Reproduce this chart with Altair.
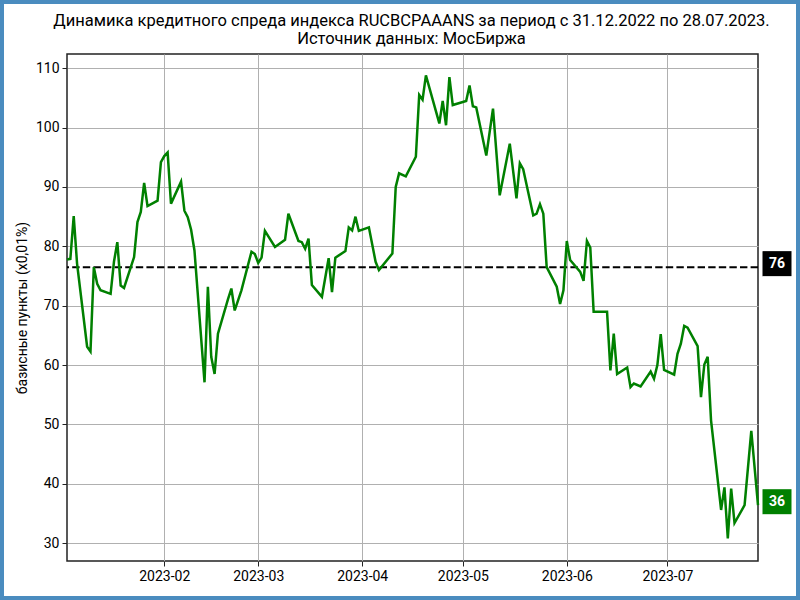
import altair as alt
import pandas as pd

# ---- data ----
dates = [
    "2023-01-03", "2023-01-04", "2023-01-05", "2023-01-06", "2023-01-09", "2023-01-10",
    "2023-01-11", "2023-01-12", "2023-01-13", "2023-01-16", "2023-01-17", "2023-01-18",
    "2023-01-19", "2023-01-20", "2023-01-23", "2023-01-24", "2023-01-25", "2023-01-26",
    "2023-01-27", "2023-01-30", "2023-01-31", "2023-02-01", "2023-02-02", "2023-02-03",
    "2023-02-06", "2023-02-07", "2023-02-08", "2023-02-09", "2023-02-10", "2023-02-13",
    "2023-02-14", "2023-02-15", "2023-02-16", "2023-02-17", "2023-02-20", "2023-02-21",
    "2023-02-22", "2023-02-24", "2023-02-27", "2023-02-28", "2023-03-01", "2023-03-02",
    "2023-03-03", "2023-03-06", "2023-03-09", "2023-03-10", "2023-03-13", "2023-03-14",
    "2023-03-15", "2023-03-16", "2023-03-17", "2023-03-20", "2023-03-22", "2023-03-23",
    "2023-03-24", "2023-03-27", "2023-03-28", "2023-03-29", "2023-03-30", "2023-03-31",
    "2023-04-03", "2023-04-05", "2023-04-06", "2023-04-10", "2023-04-11", "2023-04-12",
    "2023-04-14", "2023-04-17", "2023-04-18", "2023-04-19", "2023-04-20", "2023-04-24",
    "2023-04-25", "2023-04-26", "2023-04-27", "2023-04-28", "2023-05-02", "2023-05-03",
    "2023-05-04", "2023-05-05", "2023-05-08", "2023-05-10", "2023-05-12", "2023-05-15",
    "2023-05-17", "2023-05-18", "2023-05-19", "2023-05-22", "2023-05-23", "2023-05-24",
    "2023-05-25", "2023-05-26", "2023-05-29", "2023-05-30", "2023-05-31", "2023-06-01",
    "2023-06-02", "2023-06-05", "2023-06-06", "2023-06-07", "2023-06-08", "2023-06-09",
    "2023-06-13", "2023-06-14", "2023-06-15", "2023-06-16", "2023-06-19", "2023-06-20",
    "2023-06-21", "2023-06-23", "2023-06-26", "2023-06-27", "2023-06-28", "2023-06-29",
    "2023-06-30", "2023-07-03", "2023-07-04", "2023-07-05", "2023-07-06", "2023-07-07",
    "2023-07-10", "2023-07-11", "2023-07-12", "2023-07-13", "2023-07-14", "2023-07-17",
    "2023-07-18", "2023-07-19", "2023-07-20", "2023-07-21", "2023-07-24", "2023-07-26",
    "2023-07-28",
]
values = [
    77.8, 77.9, 85.1, 77.1, 63.1, 62.3,
    76.5, 73.7, 72.6, 72.0, 77.4, 80.7,
    73.4, 73.0, 78.2, 84.1, 85.8, 90.7,
    86.8, 87.7, 94.2, 95.2, 95.8, 87.2,
    90.9, 86.0, 84.9, 82.8, 79.3, 57.1,
    73.2, 61.4, 58.5, 65.3, 71.1, 72.9,
    69.2, 72.6, 79.1, 78.7, 77.2, 78.1,
    82.6, 79.9, 81.1, 85.5, 80.9, 80.7,
    79.6, 81.3, 73.5, 71.5, 78.0, 72.3,
    78.1, 79.2, 83.2, 82.7, 85.0, 82.6,
    83.2, 77.4, 76.0, 78.8, 90.0, 92.3,
    91.8, 95.1, 105.5, 104.7, 108.8, 100.7,
    104.5, 100.4, 108.5, 103.8, 104.5, 107.1,
    103.6, 103.4, 95.3, 103.2, 88.6, 97.3,
    88.1, 94.0, 93.0, 85.2, 85.5, 87.1,
    85.5, 76.5, 73.2, 70.3, 72.6, 80.9,
    77.7, 75.7, 74.2, 80.9, 79.8, 69.0,
    69.0, 59.1, 65.3, 58.5, 59.6, 56.3,
    56.9, 56.4, 58.9, 57.7, 60.0, 65.2,
    59.2, 58.4, 61.9, 63.6, 66.6, 66.3,
    63.2, 54.6, 60.1, 61.4, 50.7, 35.6,
    39.4, 30.8, 39.2, 33.4, 36.4, 48.9,
    36.4,
]
mean_value = 76.5
label_values = [76.5, 36.4]
label_texts = ["76", "36"]
label_colors = ["#000000", "#008000"]
y_ticks = [30, 40, 50, 60, 70, 80, 90, 100, 110]
month_ticks = [2, 3, 4, 5, 6, 7]

title_lines = [
    "Динамика кредитного спреда индекса RUCBCPAAANS за период с 31.12.2022 по 28.07.2023.",
    "Источник данных: МосБиржа",
]
y_title = "базисные пункты (x0,01%)"

# ---- layout ----
W, H = 691, 507
L, T, R, B = 67, 54, 42, 39

df = pd.DataFrame({"date": dates, "value": values})
mean_df = pd.DataFrame({"v": [mean_value]})
lab_df = pd.DataFrame({"v": label_values, "t": label_texts, "c": label_colors})
title_df = pd.DataFrame({"t": title_lines, "row": [0, 1]})

x_scale = alt.Scale(type="utc", nice=False)
y_scale = alt.Scale(domain=[27, 112.4], nice=False, zero=False)

x_axis = alt.Axis(values=[alt.DateTime(year=2023, month=m, date=1, utc=True) for m in month_ticks],
                  format="%Y-%m", title=None,
                  labelFontSize=14, tickSize=5, labelPadding=3, domain=False,
                  grid=True, gridColor="#b0b0b0", gridWidth=1)
y_axis = alt.Axis(values=y_ticks, title=y_title, titleFontSize=14, titleFontWeight="normal",
                  labelFontSize=14, tickSize=5, labelPadding=3, domain=False,
                  grid=True, gridColor="#b0b0b0", gridWidth=1,
                  titleX=-45, titleY=H / 2, titleAngle=-90, titleAlign="center",
                  titleBaseline="middle")

base = alt.Chart(df)

line = base.mark_line(color="#008000", strokeWidth=2.5).encode(
    x=alt.X("date:T", scale=x_scale, axis=x_axis),
    y=alt.Y("value:Q", scale=y_scale, axis=y_axis),
)

mean_rule = alt.Chart(mean_df).mark_rule(
    color="#000000", strokeWidth=2, strokeDash=[7.4, 3.2]
).encode(y=alt.Y("v:Q", scale=y_scale))

box_path = "M-1.16,-1L1.16,-1L1.16,1L-1.16,1Z"
boxes = alt.Chart(lab_df).mark_point(
    shape=box_path, filled=True, opacity=1, size=625, clip=False, yOffset=-3.5
).encode(
    x=alt.value(W + 19),
    y=alt.Y("v:Q", scale=y_scale),
    color=alt.Color("c:N", scale=None, legend=None),
)
texts = alt.Chart(lab_df).mark_text(
    color="white", fontWeight="bold", fontSize=14, font="Roboto",
    align="center", baseline="middle", clip=False, yOffset=-3.5
).encode(
    x=alt.value(W + 19),
    y=alt.Y("v:Q", scale=y_scale),
    text="t:N",
)

# title drawn as text marks above the plot area
title1 = alt.Chart(title_df).transform_filter("datum.row == 0").mark_text(
    fontSize=16.5, font="Roboto", color="#000000", align="center",
    baseline="alphabetic", clip=False
).encode(x=alt.value(W / 2 - 1), y=alt.value(-28), text="t:N")
title2 = alt.Chart(title_df).transform_filter("datum.row == 1").mark_text(
    fontSize=16.5, font="Roboto", color="#000000", align="center",
    baseline="alphabetic", clip=False
).encode(x=alt.value(W / 2 - 1), y=alt.value(-10.5), text="t:N")

border = alt.Chart(mean_df).mark_rect(
    fill="transparent", stroke="#4a8cbf", strokeWidth=8, clip=False
).encode(
    x=alt.value(-L), x2=alt.value(800 - L),
    y=alt.value(-T), y2=alt.value(600 - T),
)

chart = alt.layer(mean_rule, line, boxes, texts, title1, title2, border).properties(
    width=W, height=H,
    autosize=alt.AutoSizeParams(type="none"),
    padding={"left": L, "top": T, "right": R, "bottom": B},
    background="white",
).configure(
    font="Roboto",
).configure_view(
    stroke="#222222", strokeWidth=1.5,
).configure_axis(
    labelFont="Roboto", titleFont="Roboto", labelColor="#000000", titleColor="#000000",
    tickColor="#222222",
)

chart.save("out.html", embed_options={"renderer": "svg", "actions": False})
